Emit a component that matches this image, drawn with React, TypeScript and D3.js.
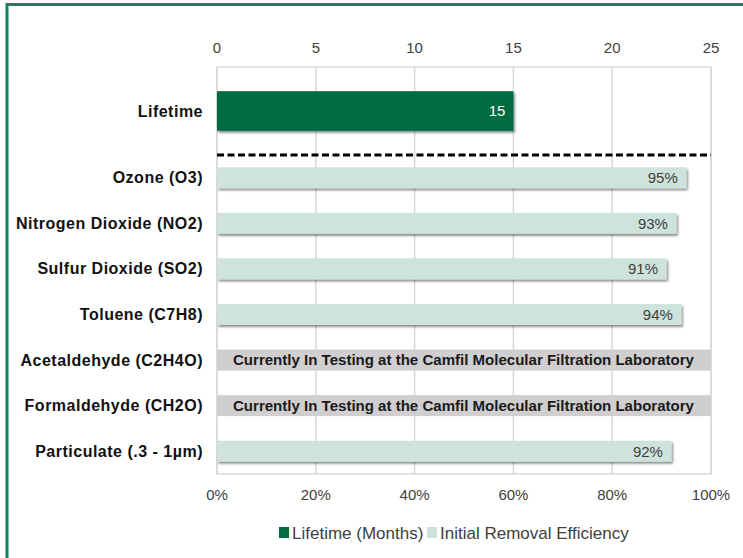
import { useEffect, useRef } from "react";
import * as d3 from "d3";

const lifetimeLabel = ["Lifetime"];
const lifetimeMonths = [15];

const categories = [
  "Ozone (O3)",
  "Nitrogen Dioxide (NO2)",
  "Sulfur Dioxide (SO2)",
  "Toluene (C7H8)",
  "Acetaldehyde (C2H4O)",
  "Formaldehyde (CH2O)",
  "Particulate (.3 - 1µm)",
];
// null = still in testing
const efficiency: (number | null)[] = [0.95, 0.93, 0.91, 0.94, null, null, 0.92];

const topTicks = [0, 5, 10, 15, 20, 25];
const bottomTicks = [0, 0.2, 0.4, 0.6, 0.8, 1];
const testingText = "Currently In Testing at the Camfil Molecular Filtration Laboratory";
const legendItems = ["Lifetime (Months)", "Initial Removal Efficiency"];

const DARK = "#006a40";
const LIGHT = "#cee3dc";
const GREY = "#d0cece";

const App = () => {
  const svgRef = useRef(null);

  useEffect(() => {
    const svg = d3.select(svgRef.current);
    svg.selectAll("*").remove();
    const width = 743;
    const height = 558;
    const plot = { left: 217, right: 711, top: 67, split: 155, bottom: 474 };
    const font = "'Liberation Sans', Arial, sans-serif";

    svg.attr("width", width).attr("height", height);

    const defs = svg.append("defs");
    defs
      .append("filter")
      .attr("id", "shadow")
      .attr("x", "-5%")
      .attr("y", "-30%")
      .attr("width", "115%")
      .attr("height", "180%")
      .append("feDropShadow")
      .attr("dx", 1.5)
      .attr("dy", 2)
      .attr("stdDeviation", 1)
      .attr("flood-color", "#000")
      .attr("flood-opacity", 0.45);

    // green frame
    svg
      .append("rect")
      .attr("x", 7)
      .attr("y", 4.5)
      .attr("width", 900)
      .attr("height", 700)
      .attr("fill", "none")
      .attr("stroke", "#0b8457")
      .attr("stroke-width", 3);

    const xTop = d3.scaleLinear().domain([0, 25]).range([plot.left, plot.right]);
    const xBottom = d3.scaleLinear().domain([0, 1]).range([plot.left, plot.right]);

    const yTop = d3
      .scaleBand()
      .domain(lifetimeLabel)
      .range([plot.top, plot.split])
      .paddingInner(0.55)
      .paddingOuter(0.275);
    const y = d3
      .scaleBand()
      .domain(categories)
      .range([plot.split, plot.bottom])
      .paddingInner(0.54)
      .paddingOuter(0.27);

    // grid
    svg
      .append("g")
      .selectAll("line")
      .data(topTicks)
      .join("line")
      .attr("x1", (d) => xTop(d))
      .attr("x2", (d) => xTop(d))
      .attr("y1", plot.top)
      .attr("y2", plot.bottom)
      .attr("stroke", "#d9d9d9")
      .attr("stroke-width", 1.5);
    svg
      .append("rect")
      .attr("x", plot.left)
      .attr("y", plot.top)
      .attr("width", plot.right - plot.left)
      .attr("height", plot.bottom - plot.top)
      .attr("fill", "none")
      .attr("stroke", "#d9d9d9")
      .attr("stroke-width", 1.5);

    // top axis labels
    svg
      .append("g")
      .selectAll("text")
      .data(topTicks)
      .join("text")
      .attr("x", (d) => xTop(d))
      .attr("y", 53)
      .attr("text-anchor", "middle")
      .attr("font-family", font)
      .attr("font-size", "15px")
      .attr("fill", "#404040")
      .text((d) => d);

    // bottom axis labels
    svg
      .append("g")
      .selectAll("text")
      .data(bottomTicks)
      .join("text")
      .attr("x", (d) => xBottom(d))
      .attr("y", 500)
      .attr("text-anchor", "middle")
      .attr("font-family", font)
      .attr("font-size", "15px")
      .attr("fill", "#404040")
      .text((d) => d3.format(".0%")(d));

    // lifetime bar
    svg
      .append("g")
      .selectAll("rect")
      .data(lifetimeMonths)
      .join("rect")
      .attr("x", xTop(0))
      .attr("y", yTop(lifetimeLabel[0]) as number)
      .attr("width", (d) => xTop(d) - xTop(0))
      .attr("height", yTop.bandwidth())
      .attr("fill", DARK)
      .attr("filter", "url(#shadow)");
    svg
      .append("g")
      .selectAll("text")
      .data(lifetimeMonths)
      .join("text")
      .attr("x", (d) => xTop(d) - 8)
      .attr("y", (yTop(lifetimeLabel[0]) as number) + yTop.bandwidth() / 2 + 5)
      .attr("text-anchor", "end")
      .attr("font-family", font)
      .attr("font-size", "15px")
      .attr("fill", "#fff")
      .text((d) => d);

    // dashed separator
    svg
      .append("line")
      .attr("x1", plot.left)
      .attr("x2", plot.right)
      .attr("y1", plot.split)
      .attr("y2", plot.split)
      .attr("stroke", "#000")
      .attr("stroke-width", 3)
      .attr("stroke-dasharray", "7,3.5");

    const rows = categories.map((name, i) => ({ name, value: efficiency[i] }));

    // efficiency bars
    svg
      .append("g")
      .selectAll("rect")
      .data(rows.filter((d) => d.value !== null))
      .join("rect")
      .attr("x", xBottom(0))
      .attr("y", (d) => y(d.name) as number)
      .attr("width", (d) => xBottom(d.value as number) - xBottom(0))
      .attr("height", y.bandwidth())
      .attr("fill", LIGHT)
      .attr("filter", "url(#shadow)");
    svg
      .append("g")
      .selectAll("text")
      .data(rows.filter((d) => d.value !== null))
      .join("text")
      .attr("x", (d) => xBottom(d.value as number) - 8.5)
      .attr("y", (d) => (y(d.name) as number) + y.bandwidth() / 2 + 5.5)
      .attr("text-anchor", "end")
      .attr("font-family", font)
      .attr("font-size", "15px")
      .attr("fill", "#404040")
      .text((d) => d3.format(".0%")(d.value as number));

    // rows still in testing
    const testing = rows.filter((d) => d.value === null);
    svg
      .append("g")
      .selectAll("rect")
      .data(testing)
      .join("rect")
      .attr("x", xBottom(0))
      .attr("y", (d) => y(d.name) as number)
      .attr("width", xBottom(1) - xBottom(0))
      .attr("height", y.bandwidth())
      .attr("fill", GREY);
    svg
      .append("g")
      .selectAll("text")
      .data(testing)
      .join("text")
      .attr("x", 233)
      .attr("y", (d) => (y(d.name) as number) + y.bandwidth() / 2 + 5)
      .attr("textLength", 461)
      .attr("lengthAdjust", "spacingAndGlyphs")
      .attr("font-family", font)
      .attr("font-size", "14px")
      .attr("font-weight", "bold")
      .attr("fill", "#1a1a1a")
      .text(testingText);

    // category labels
    const labelRows = [
      { name: lifetimeLabel[0], cy: (yTop(lifetimeLabel[0]) as number) + yTop.bandwidth() / 2 },
      ...categories.map((name) => ({ name, cy: (y(name) as number) + y.bandwidth() / 2 })),
    ];
    svg
      .append("g")
      .selectAll("text")
      .data(labelRows)
      .join("text")
      .attr("x", 203)
      .attr("y", (d) => d.cy + 5.5)
      .attr("text-anchor", "end")
      .attr("font-family", font)
      .attr("font-size", "16px")
      .attr("letter-spacing", "0.5px")
      .attr("font-weight", "bold")
      .attr("fill", "#111")
      .text((d) => d.name);

    // legend
    const legendX = [279, 427];
    const legend = svg
      .append("g")
      .selectAll("g")
      .data(legendItems)
      .join("g")
      .attr("transform", (_, i) => `translate(${legendX[i]}, 527)`);
    legend
      .append("rect")
      .attr("width", 10)
      .attr("height", 11)
      .attr("fill", (_, i) => (i === 0 ? DARK : LIGHT));
    legend
      .append("text")
      .attr("x", 13)
      .attr("y", 11.5)
      .attr("font-family", font)
      .attr("font-size", "17px")
      .attr("fill", "#404040")
      .text((d) => d);
  }, []);

  return (
    <svg
      ref={svgRef}
      style={{ position: "absolute", left: 0, top: 0, display: "block" }}
    ></svg>
  );
};

export default App;
